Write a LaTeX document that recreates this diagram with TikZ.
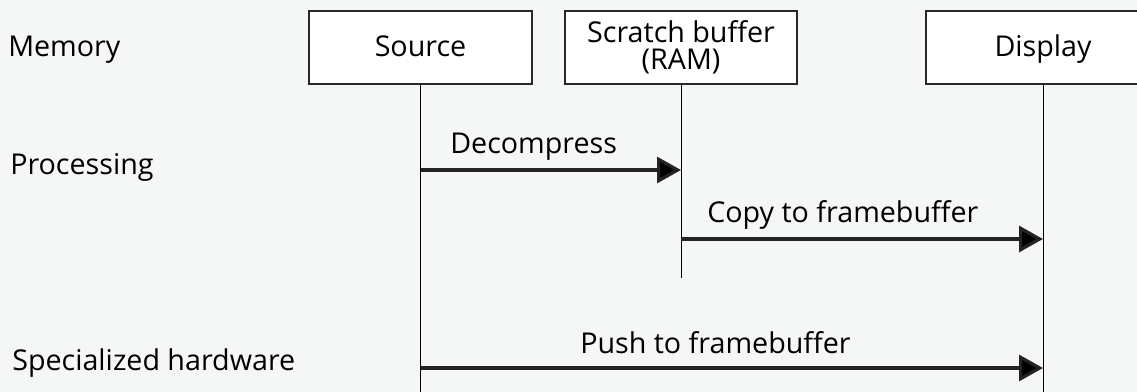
\documentclass[tikz,border=0pt]{standalone}
\usepackage{fontspec}
\setmainfont{Open Sans}
\usetikzlibrary{arrows.meta}
\definecolor{bg}{RGB}{245,247,246}
\definecolor{edge}{RGB}{40,40,40}
\definecolor{arr}{RGB}{35,35,35}
\begin{document}
\begin{tikzpicture}[x=0.75pt,y=-0.75pt,
  every node/.style={font=\fontsize{21.5}{20}\selectfont, inner sep=0pt},
  actor/.style={draw=edge, line width=0.9pt, fill=white, minimum height=73*0.75pt, align=center},
  single/.style={text height=19.4pt, text depth=5.4pt},
  life/.style={draw=black, line width=0.75pt},
  msg/.style={draw=arr, line width=2.4pt, -{Triangle[length=18pt,width=19.5pt,fill=black]}},
  lbl/.style={anchor=base west}
]
\useasboundingbox (0,0) rectangle (1137,392);
\fill[bg] (0,0) rectangle (1137,392);
\clip (0,0) rectangle (1137,392);

\node[actor, single, minimum width=223*0.75pt] (src) at (420.5,47.5) {Source};
\node[actor, minimum width=232*0.75pt] (scr) at (681,47.5) {Scratch buffer\\(RAM)};
\node[actor, single, minimum width=234*0.75pt] (dsp) at (1043,47.5) {Display};

\coordinate (srcend) at (420.5,392);
\coordinate (scrend) at (681,278);
\coordinate (dspend) at (1043,392);
\draw[life] (src.south) -- (srcend);
\draw[life] (scr.south) -- (scrend);
\draw[life] (dsp.south) -- (dspend);

\coordinate (d1) at (420.5,170);
\coordinate (d2) at (681,170);
\coordinate (c1) at (681,239);
\coordinate (c2) at (1043,239);
\coordinate (p1) at (420.5,368);
\coordinate (p2) at (1043,368);
\draw[msg] (d1) -- (d2);
\draw[msg] (c1) -- (c2);
\draw[msg] (p1) -- (p2);

\node[lbl] (ldec) at (450,153) {Decompress};
\node[lbl] (lcopy) at (707,222) {Copy to framebuffer};
\node[lbl] (lpush) at (580,353) {Push to framebuffer};

\node[lbl] (mem) at (8,57) {Memory};
\node[lbl] (proc) at (10,175) {Processing};
\node[lbl] (hw) at (12,370) {Specialized hardware};
\end{tikzpicture}
\end{document}
